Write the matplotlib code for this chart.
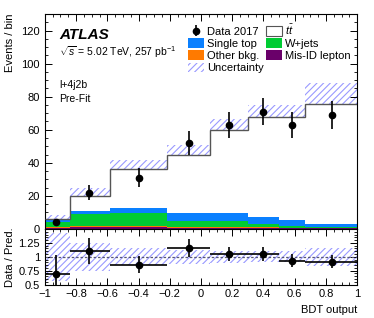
import numpy as np
import matplotlib
matplotlib.use("Agg")
import matplotlib.pyplot as plt
from matplotlib.patches import Patch
from matplotlib.ticker import MultipleLocator

# binning and values
edges = [-1.0, -0.84, -0.58, -0.22, 0.06, 0.30, 0.50, 0.665, 1.0]
misid = [0.6, 0.9, 0.9, 0.8, 0.7, 0.6, 0.5, 0.4]
other = [0.3, 0.6, 0.6, 0.5, 0.4, 0.4, 0.3, 0.3]
wjets = [3.4, 7.5, 7.9, 3.7, 3.8, 1.8, 1.2, 0.7]
singletop = [1.0, 2.0, 3.4, 4.8, 4.8, 4.6, 3.2, 1.8]
ttbar = [0.5, 9.0, 23.5, 35.2, 50.3, 60.6, 62.8, 72.3]
unc = [2.5, 5.0, 5.5, 5.7, 6.5, 6.7, 6.7, 12.5]

data_x = [-0.93, -0.72, -0.40, -0.08, 0.18, 0.40, 0.58, 0.84]
data = [4, 22, 31, 52, 63, 71, 63, 69]
data_err = [2.0, 4.7, 5.6, 7.2, 7.9, 8.4, 7.9, 8.3]

colors = ["#6a006a", "#ff7a00", "#00cc33", "#0a80ff", "white"]
hatch_col = "#9999ff"

plt.rcParams["font.family"] = ["Liberation Sans", "DejaVu Sans"]
plt.rcParams["mathtext.fontset"] = "custom"
plt.rcParams["mathtext.rm"] = "Liberation Sans"
plt.rcParams["mathtext.it"] = "Liberation Sans:italic"
plt.rcParams["hatch.linewidth"] = 0.8

fig = plt.figure(figsize=(3.74, 3.18), dpi=100)
ax = fig.add_axes([0.120, 0.280, 0.835, 0.676])
rax = fig.add_axes([0.120, 0.105, 0.835, 0.175], sharex=ax)

edges = np.array(edges)
base = np.zeros(len(edges) - 1)
for vals, col in zip([misid, other, wjets, singletop, ttbar], colors):
    vals = np.array(vals)
    ax.stairs(base + vals, edges, baseline=base, fill=True, color=col, lw=0, zorder=2)
    base = base + vals
total = base
ax.stairs(total, edges, baseline=None, color="#555555", lw=1.0, zorder=3)
ax.stairs(total + np.array(unc), edges, baseline=total - np.array(unc), fill=True,
          facecolor="none", edgecolor=hatch_col, hatch="/////", lw=0, zorder=1.5)
data_h = ax.errorbar(data_x, data, yerr=data_err, fmt="o", color="black", ms=4.5,
                     lw=1.2, capsize=0, zorder=5)

ax.set_xlim(-1, 1)
ax.set_ylim(0, 130)
ax.set_ylabel("Events / bin", fontsize=8, loc="top")
ax.yaxis.set_label_coords(-0.095, 1.0)
ax.yaxis.set_major_locator(MultipleLocator(20))
ax.yaxis.set_minor_locator(MultipleLocator(5))
ax.xaxis.set_major_locator(MultipleLocator(0.2))
ax.xaxis.set_minor_locator(MultipleLocator(0.05))
ax.tick_params(labelbottom=False)

ax.text(0.045, 0.885, "ATLAS", transform=ax.transAxes, fontsize=11,
        fontweight="bold", fontstyle="italic")
ax.text(0.045, 0.805, r"$\sqrt{s}$ = 5.02 TeV, 257 pb$^{-1}$", transform=ax.transAxes,
        fontsize=7.5)
ax.text(0.045, 0.655, "l+4j2b", transform=ax.transAxes, fontsize=7.5)
ax.text(0.045, 0.59, "Pre-Fit", transform=ax.transAxes, fontsize=7.5)

handles = [
    data_h,
    Patch(facecolor=colors[3]),
    Patch(facecolor=colors[1]),
    Patch(facecolor="none", edgecolor=hatch_col, hatch="/////", lw=0),
    Patch(facecolor="white", edgecolor="#555555", lw=0.8),
    Patch(facecolor=colors[2]),
    Patch(facecolor=colors[0]),
]
hlabels = ["Data 2017", "Single top", "Other bkg.", "Uncertainty",
           r"$t\bar{t}$", "W+jets", "Mis-ID lepton"]
ax.legend(handles, hlabels, ncol=2, loc="upper right", bbox_to_anchor=(1.0, 0.99),
          frameon=False, fontsize=8, handlelength=1.4, handleheight=1.0,
          handletextpad=0.3, columnspacing=0.2, labelspacing=0.12, borderaxespad=0.2)

# ratio panel
ratio = np.array(data) / total
ratio_err = np.array(data_err) / total
runc = np.array(unc) / total
rax.stairs(1 + runc, edges, baseline=1 - runc, fill=True, facecolor="none",
           edgecolor=hatch_col, hatch="/////", lw=0, zorder=1)
rax.axhline(1, color="#555577", ls=(0, (2, 1.5)), lw=0.9, zorder=2)
centers = np.array(data_x)
xerr = [centers - edges[:-1], edges[1:] - centers]
rax.errorbar(centers, ratio, yerr=ratio_err, xerr=xerr, fmt="o", color="black",
             ms=4.5, lw=1.2, capsize=0, zorder=5)
rax.set_ylim(0.5, 1.5)
rax.set_yticks([0.5, 0.75, 1, 1.25])
rax.set_yticklabels(["0.5", "0.75", "1", "1.25"])
rax.yaxis.set_minor_locator(MultipleLocator(0.05))
rax.set_ylabel("Data / Pred.", fontsize=8)
rax.yaxis.set_label_coords(-0.095, 0.5)
rax.set_xlabel("BDT output", fontsize=8, loc="right")
rax.set_xticks(np.arange(-1, 1.01, 0.2))
rax.set_xticklabels(["\u22121", "\u22120.8", "\u22120.6", "\u22120.4", "\u22120.2",
                     "0", "0.2", "0.4", "0.6", "0.8", "1"])

for a in (ax, rax):
    a.tick_params(which="both", direction="in", top=True, right=True, labelsize=8)
    a.tick_params(which="major", length=5, width=0.7)
    a.tick_params(which="minor", length=2.5, width=0.6)
    for s in a.spines.values():
        s.set_linewidth(0.8)

fig.savefig("out.png", dpi=100)
